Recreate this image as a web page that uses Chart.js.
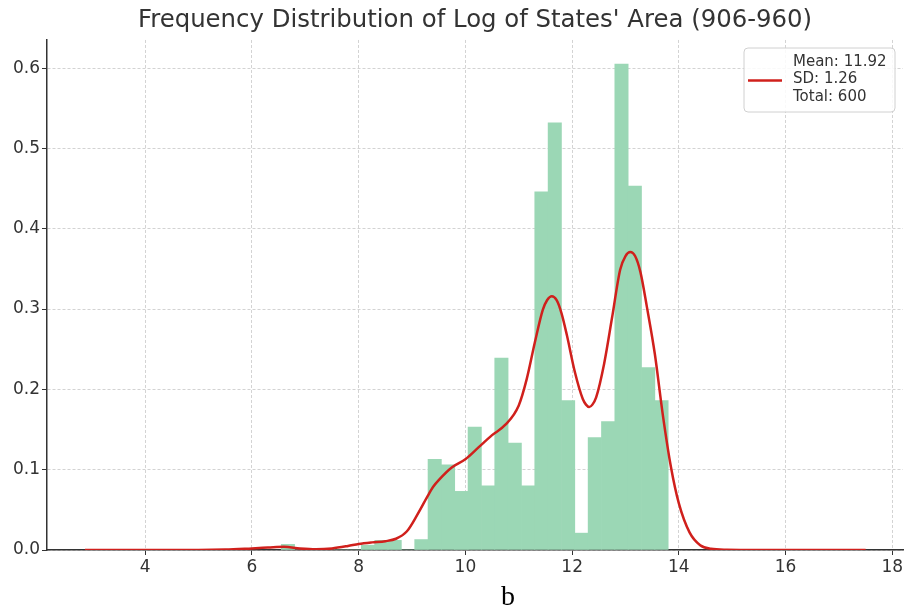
<!DOCTYPE html>
<html>
<head>
<meta charset="utf-8">
<script src="https://cdn.jsdelivr.net/npm/chart.js@4.4.1/dist/chart.umd.min.js"></script>
<style>
  html, body { margin: 0; padding: 0; background: #fff; }
  #wrap { width: 906px; height: 613px; }
</style>
</head>
<body>
<div id="wrap"><canvas id="hist" width="906" height="613"></canvas></div>
<script>
'use strict';

// histogram bins (centre of each 0.25 wide bin) and density
const binCenters = [6.675, 6.925, 7.175, 7.425, 7.675, 7.925, 8.175, 8.425, 8.675, 8.925,
    9.175, 9.425, 9.675, 9.925, 10.175, 10.425, 10.675, 10.925, 11.175, 11.425,
    11.675, 11.925, 12.175, 12.425, 12.675, 12.925, 13.175, 13.425, 13.675];
const binDensity = [0.007, 0, 0, 0, 0, 0, 0.006, 0.012, 0.012, 0,
    0.013, 0.113, 0.106, 0.073, 0.153, 0.080, 0.239, 0.133, 0.080, 0.446,
    0.532, 0.186, 0.021, 0.140, 0.160, 0.605, 0.453, 0.227, 0.186];

// KDE curve
const kdeX = [2.87, 4, 5, 5.5, 6.0, 6.3, 6.6, 6.9, 7.2, 7.5, 7.8, 8.0, 8.25, 8.5, 8.7,
    8.9, 9.1, 9.3, 9.4, 9.5, 9.75, 10.0, 10.25, 10.5, 10.75, 11.0, 11.15, 11.3, 11.45,
    11.53, 11.62, 11.71, 11.8, 11.9, 12.05, 12.2, 12.26, 12.32, 12.38, 12.45, 12.6,
    12.75, 12.9, 13.0, 13.09, 13.18, 13.28, 13.4, 13.55, 13.7, 13.85, 14.0, 14.2,
    14.4, 14.6, 14.9, 15.5, 16.5, 17.5];
const kdeY = [0, 0, 0, 0.0005, 0.002, 0.003, 0.004, 0.002, 0.001, 0.002, 0.005, 0.0075, 0.0095, 0.011, 0.014,
    0.023, 0.044, 0.068, 0.079, 0.087, 0.103, 0.113, 0.128, 0.143, 0.156, 0.180, 0.213, 0.258, 0.299,
    0.311, 0.316, 0.311, 0.295, 0.268, 0.222, 0.188, 0.181, 0.178, 0.181, 0.190, 0.232,
    0.290, 0.349, 0.366, 0.371, 0.366, 0.346, 0.303, 0.244, 0.168, 0.104, 0.058, 0.022,
    0.006, 0.0015, 0.0003, 0, 0, 0];

const xTicks = [4, 6, 8, 10, 12, 14, 16, 18];
const yTicks = [0, 0.1, 0.2, 0.3, 0.4, 0.5, 0.6];
const legendLines = ['Mean: 11.92', 'SD: 1.26', 'Total: 600'];
const chartTitle = "Frequency Distribution of Log of States' Area (906-960)";
const caption = 'b';

const lineRed = '#d0201c';
const textGrey = '#333333';

const histData = binCenters.map((c, i) => ({x: c, y: binDensity[i]}));
const kdeData = kdeX.map((v, i) => ({x: v, y: kdeY[i]}));

// legend box and the caption under the axis
const extrasPlugin = {
    id: 'extras',
    afterDraw(chart) {
        const ctx = chart.ctx;
        ctx.save();
        // legend
        const bx = 744, by = 48, bw = 151, bh = 64, r = 4;
        ctx.beginPath();
        ctx.moveTo(bx + r, by);
        ctx.arcTo(bx + bw, by, bx + bw, by + bh, r);
        ctx.arcTo(bx + bw, by + bh, bx, by + bh, r);
        ctx.arcTo(bx, by + bh, bx, by, r);
        ctx.arcTo(bx, by, bx + bw, by, r);
        ctx.closePath();
        ctx.fillStyle = 'rgba(255,255,255,0.85)';
        ctx.fill();
        ctx.strokeStyle = '#d0d0d0';
        ctx.lineWidth = 1;
        ctx.stroke();

        ctx.strokeStyle = lineRed;
        ctx.lineWidth = 2.5;
        ctx.beginPath();
        ctx.moveTo(748, 80.5);
        ctx.lineTo(782, 80.5);
        ctx.stroke();

        ctx.fillStyle = textGrey;
        ctx.font = '15px "DejaVu Sans"';
        ctx.textBaseline = 'middle';
        ctx.textAlign = 'left';
        legendLines.forEach((t, i) => {
            ctx.fillText(t, 793, 62 + i * 17.5);
        });

        ctx.fillStyle = '#000';
        ctx.font = '28px "Liberation Serif"';
        ctx.textAlign = 'center';
        ctx.textBaseline = 'alphabetic';
        ctx.fillText(caption, 508, 605);
        ctx.restore();
    },
};

const ctx = document.getElementById('hist').getContext('2d');
new Chart(ctx, {
    type: 'bar',
    data: {
        datasets: [
            {
                type: 'line',
                data: kdeData,
                borderColor: lineRed,
                borderWidth: 2.5,
                pointRadius: 0,
                fill: false,
                cubicInterpolationMode: 'monotone',
                order: 0,
            },
            {
                type: 'bar',
                data: histData,
                backgroundColor: '#9bd7b5',
                borderWidth: 0,
                barPercentage: 1,
                categoryPercentage: 1,
                order: 1,
            }],
    },
    options: {
        responsive: false,
        animation: false,
        layout: {padding: {left: 0, right: 3, top: 0, bottom: 0}},
        plugins: {
            legend: {display: false},
            tooltip: {enabled: false},
            title: {
                display: true,
                text: chartTitle,
                fullSize: false,
                color: textGrey,
                font: {family: 'DejaVu Sans', size: 24.4, weight: 'normal', lineHeight: 1.2},
                padding: {top: 6, bottom: 4.7},
            },
        },
        scales: {
            x: {
                type: 'linear',
                min: 2.16,
                max: 18.2,
                offset: false,
                afterBuildTicks: scale => {
                    scale.ticks = xTicks.map(v => ({value: v}));
                },
                afterFit: scale => {
                    scale.height = 63;
                },
                ticks: {
                    color: textGrey,
                    font: {family: 'DejaVu Sans', size: 17},
                    padding: 2,
                    maxRotation: 0,
                    callback: v => String(v),
                },
                grid: {
                    offset: false,
                    color: '#d3d3d3',
                    lineWidth: 1,
                    tickLength: 5,
                    tickColor: textGrey,
                    tickBorderDash: [],
                },
                border: {color: textGrey, width: 1.5, dash: [3, 2]},
            },
            y: {
                min: 0,
                max: 0.635,
                afterBuildTicks: scale => {
                    scale.ticks = yTicks.map(v => ({value: v}));
                },
                afterFit: scale => {
                    scale.width = 47;
                },
                ticks: {
                    color: textGrey,
                    font: {family: 'DejaVu Sans', size: 17},
                    padding: 2,
                    callback: v => v.toFixed(1),
                },
                grid: {
                    color: '#d3d3d3',
                    lineWidth: 1,
                    tickLength: 5,
                    tickColor: textGrey,
                    tickBorderDash: [],
                },
                border: {color: textGrey, width: 1.5, dash: [3, 2]},
            },
        },
    },
    plugins: [extrasPlugin],
});
</script>
</body>
</html>
